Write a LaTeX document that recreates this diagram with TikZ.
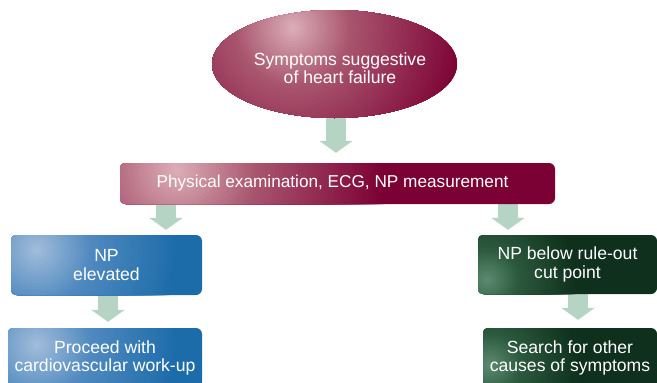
\documentclass[tikz,border=0pt]{standalone}
\usepackage{fontspec}
\setmainfont{Liberation Sans}
\usetikzlibrary{shapes.geometric,arrows.meta,backgrounds}

% palette
\definecolor{mdark}{HTML}{7B0033}
\definecolor{mmid}{HTML}{A9566F}
\definecolor{mlight}{HTML}{DDB0BB}
\definecolor{bdark}{HTML}{1D6CAA}
\definecolor{bmid}{HTML}{4F89BF}
\definecolor{blight}{HTML}{A3BEDB}
\definecolor{gdark}{HTML}{0E301C}
\definecolor{gmid}{HTML}{2C5A3E}
\definecolor{glight}{HTML}{5E8C72}
\definecolor{arrowgreen}{HTML}{B5D4C4}

% soft radial glow built from concentric discs:
% #1 centre, #2 radius, #3 light, #4 mid, #5 dark, #6 radius fraction where the mid colour sits
\newcommand\glowdisc[6]{%
  \foreach \glk in {64,...,1}{%
    \pgfmathsetmacro\glf{\glk/64}%
    \pgfmathsetmacro\glp{\glf<#6 ? 100*(1-\glf/#6) : 100*(1-(\glf-#6)/(1-#6))}%
    \ifdim \glf pt<#6pt \colorlet{glowtmp}{#3!\glp!#4}\else\colorlet{glowtmp}{#4!\glp!#5}\fi
    \fill[glowtmp] (#1) circle[radius={#2*\glf}];
  }}

\begin{document}
\begin{tikzpicture}[x=1pt,y=-1pt,
  lbl/.style={text=white, font=\fontsize{17.6}{18.5}\selectfont, align=center, inner sep=0pt},
  glow/.style n args={6}{fill=#5, path picture={%
      \coordinate (glc) at ([shift={(#1)}]path picture bounding box.north west);
      \glowdisc{glc}{#2}{#3}{#4}{#5}{#6}}},
  box/.style={lbl, rectangle, rounded corners=6pt},
  fat/.style={draw=arrowgreen, line width=20pt, -{Triangle[width=33pt,length=12pt]}}
]
\useasboundingbox (0,0) rectangle (657,383);
\clip (0,0) rectangle (657,383);

% top ellipse and the wide bar
\node[ellipse, minimum width=245pt, minimum height=108pt, inner sep=0pt,
      glow={81,18}{175}{mlight}{mmid}{mdark}{0.33}] (e) at (334.5,64) {};
\node[lbl] (etext) at ([shift={(5.5,4)}]e.center) {Symptoms suggestive\\of heart failure};

\node[box, minimum width=435pt, minimum height=41pt,
      glow={57,7}{210}{mlight}{mmid}{mdark}{0.38}] (bar) at (337.5,183.5) {};
\node[lbl, font=\fontsize{17.2}{18}\selectfont] (bartext) at ([shift={(-5,0)}]bar.center)
      {Physical examination, ECG, NP measurement};

% outcome boxes
\node[box, minimum width=191pt, minimum height=60pt,
      glow={26,15}{140}{blight}{bmid}{bdark}{0.4}] (npe) at (106.5,265) {NP\\elevated};
\node[box, minimum width=179pt, minimum height=59pt,
      glow={9,45}{90}{glight}{gmid}{gdark}{0.35}] (npb) at (567.5,264.5)
      {\fontsize{17.6}{20.5}\selectfont NP below rule-out\\cut point};

\node[box, minimum width=194pt, minimum height=60pt,
      glow={29,17}{140}{blight}{bmid}{bdark}{0.4}] (pcw) at (105,358) {Proceed with\\cardiovascular work-up};
\node[box, minimum width=174pt, minimum height=60pt,
      glow={7,37}{90}{glight}{gmid}{gdark}{0.35}] (soc) at (570,358) {Search for other\\causes of symptoms};

% broad arrows, tucked behind the shapes
\begin{scope}[on background layer]
  \draw[fat, shorten >=10pt] ([xshift=1.5pt,yshift=4pt]e.south) -- ([xshift=1.5pt]e.south |- bar.north);
  \draw[fat, shorten >=5pt] ([xshift=-171.5pt]bar.south) -- ([xshift=-171.5pt]bar.south |- npe.north);
  \draw[fat, shorten >=5pt] ([xshift=170.5pt]bar.south) -- ([xshift=170.5pt]bar.south |- npb.north);
  \draw[fat, shorten >=6pt] ([xshift=1.5pt]npe.south) -- ([xshift=1.5pt]npe.south |- pcw.north);
  \draw[fat, shorten >=8pt] ([xshift=10.5pt]npb.south) -- ([xshift=10.5pt]npb.south |- soc.north);
\end{scope}
\end{tikzpicture}
\end{document}
